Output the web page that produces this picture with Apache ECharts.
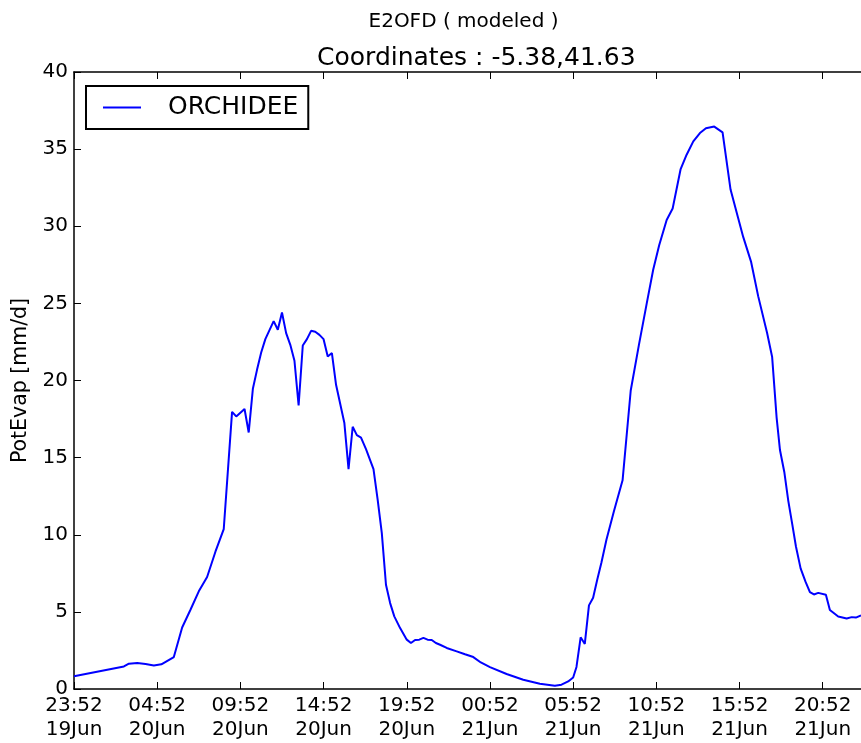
<!DOCTYPE html>
<html>
<head>
<meta charset="utf-8">
<script src="https://cdn.jsdelivr.net/npm/echarts@6/dist/echarts.min.js"></script>
<style>
html,body{margin:0;padding:0;background:#fff;}
#chart{width:861px;height:743px;}
</style>
</head>
<body>
<div id="chart"></div>
<script>
// Hours since 23:52 19Jun
const hours = [
  0, 3.0, 3.3, 3.8, 4.3, 4.8, 5.25, 6.0, 6.5, 7.0, 7.5, 8.0, 8.5, 9.0, 9.5, 9.75,
  10.25, 10.5, 10.75, 11.0, 11.25, 11.5, 12.0, 12.25, 12.5, 12.75, 13.0, 13.25, 13.5, 13.75,
  14.0, 14.25, 14.5, 14.75, 15.0, 15.25, 15.5, 15.75, 16.25, 16.5, 16.75, 17.0, 17.25, 17.55,
  18.0, 18.25, 18.5, 18.75, 19.0, 19.25, 19.6, 20.0, 20.25, 20.5, 20.75, 21.0, 21.25, 21.5,
  21.75, 22.0, 22.4, 23.0, 23.5, 24.0, 24.45, 25.0, 26.0, 27.0, 28.0, 28.9, 29.3, 29.7,
  30.0, 30.2, 30.45, 30.7, 30.95, 31.2, 31.45, 31.7, 32.0, 32.45, 32.97, 33.46, 33.95, 34.42,
  34.81, 35.17, 35.62, 35.98, 36.46, 36.82, 37.22, 37.62, 37.98, 38.48, 38.98, 39.46, 39.92,
  40.22, 40.69, 41.12, 41.66, 41.96, 42.23, 42.43, 42.69, 42.93, 43.17, 43.39, 43.67, 43.97,
  44.23, 44.47, 44.73, 45.19, 45.43, 45.93, 46.44, 46.74, 46.99, 47.3
];
const potEvap = [
  0.82, 1.46, 1.64, 1.68, 1.62, 1.53, 1.60, 2.07, 3.99, 5.14, 6.33, 7.26, 8.9, 10.37, 17.97, 17.67,
  18.15, 16.63, 19.46, 20.69, 21.82, 22.68, 23.85, 23.29, 24.41, 23.07, 22.31, 21.28, 18.38, 22.27,
  22.68, 23.22, 23.16, 22.96, 22.68, 21.56, 21.78, 19.72, 17.24, 14.26, 17.0, 16.46, 16.3, 15.55,
  14.26, 12.27, 10.11, 6.76, 5.57, 4.71, 3.95, 3.2, 2.98, 3.18, 3.2, 3.31, 3.2, 3.18,
  2.98, 2.87, 2.66, 2.44, 2.25, 2.07, 1.72, 1.42, 0.97, 0.60, 0.34, 0.21, 0.28, 0.49,
  0.75, 1.43, 3.35, 2.92, 5.42, 5.92, 7.1, 8.2, 9.68, 11.52, 13.53, 19.35, 22.29, 24.98,
  27.18, 28.77, 30.41, 31.15, 33.71, 34.64, 35.5, 36.04, 36.35, 36.46, 36.09, 32.38, 30.52,
  29.31, 27.71, 25.47, 23.06, 21.52, 17.58, 15.49, 14.07, 12.2, 10.67, 9.24, 7.82, 6.94,
  6.28, 6.13, 6.23, 6.11, 5.12, 4.7, 4.57, 4.66, 4.63, 4.77
];
const xTickHours = [0, 5, 10, 15, 20, 25, 30, 35, 40, 45];
const xTickLabels = ['23:52\n19Jun', '04:52\n20Jun', '09:52\n20Jun', '14:52\n20Jun', '19:52\n20Jun',
                     '00:52\n21Jun', '05:52\n21Jun', '10:52\n21Jun', '15:52\n21Jun', '20:52\n21Jun'];
const seriesName = 'ORCHIDEE';
const supTitle = 'E2OFD ( modeled )';
const axTitle = 'Coordinates : -5.38,41.63';
const yName = 'PotEvap [mm/d]';

const FONT = 'DejaVu Sans';
const chart = echarts.init(document.getElementById('chart'), null, {renderer: 'canvas'});
const data = hours.map((h, i) => [h, potEvap[i]]);
const xMax = 47.3; // visible part of the axis (plot continues past the picture edge)

const axisLineStyle = {color: '#000', width: 1.5};
const tickStyle = {color: '#000', width: 1};

chart.setOption({
  animation: false,
  backgroundColor: '#fff',
  title: [
    {text: supTitle, left: 458.5, top: 7, textAlign: 'center',
     textStyle: {fontFamily: FONT, fontSize: 20, fontWeight: 'normal', color: '#000'}},
    {text: axTitle, left: 471.3, top: 41, textAlign: 'center',
     textStyle: {fontFamily: FONT, fontSize: 25, fontWeight: 'normal', color: '#000'}}
  ],
  legend: {
    data: [seriesName],
    left: 86, top: 86,
    orient: 'horizontal',
    icon: 'rect',
    borderColor: '#000', borderWidth: 2, borderRadius: 0,
    padding: [9, 10, 9, 17],
    itemWidth: 38, itemHeight: 2,
    textStyle: {fontFamily: FONT, fontSize: 25, color: '#000', padding: [0, 0, 0, 22]}
  },
  grid: {left: 74, top: 72, width: 787, height: 617, containLabel: false},
  xAxis: [
    {type: 'value', min: 0, max: xMax, position: 'bottom',
     splitLine: {show: false},
     axisLine: {show: true, lineStyle: axisLineStyle, onZero: false},
     axisTick: {show: true, inside: true, length: 7, lineStyle: tickStyle, customValues: xTickHours},
     axisLabel: {show: true, customValues: xTickHours, margin: 5,
       fontFamily: FONT, fontSize: 20, color: '#000', lineHeight: 24,
       formatter: function (v) { const i = xTickHours.indexOf(v); return i >= 0 ? xTickLabels[i] : ''; }}
    },
    {type: 'value', min: 0, max: xMax, position: 'top',
     splitLine: {show: false},
     axisLine: {show: true, lineStyle: axisLineStyle, onZero: false},
     axisTick: {show: true, inside: true, length: 7, lineStyle: tickStyle, customValues: xTickHours},
     axisLabel: {show: false}
    }
  ],
  yAxis: [
    {type: 'value', min: 0, max: 40, interval: 5, position: 'left',
     name: yName, nameLocation: 'middle', nameGap: 38,
     nameTextStyle: {fontFamily: FONT, fontSize: 20.5, color: '#000'},
     splitLine: {show: false},
     axisLine: {show: true, lineStyle: axisLineStyle, onZero: false},
     axisTick: {show: true, inside: true, length: 7, lineStyle: tickStyle},
     axisLabel: {margin: 6, fontFamily: FONT, fontSize: 20, color: '#000'}
    }
  ],
  series: [{
    name: seriesName,
    type: 'line',
    xAxisIndex: 0, yAxisIndex: 0,
    data: data,
    symbol: 'none',
    showSymbol: false,
    smooth: false,
    color: '#0000ff',
    itemStyle: {color: '#0000ff'},
    lineStyle: {color: '#0000ff', width: 2}
  }]
});
</script>
</body>
</html>
